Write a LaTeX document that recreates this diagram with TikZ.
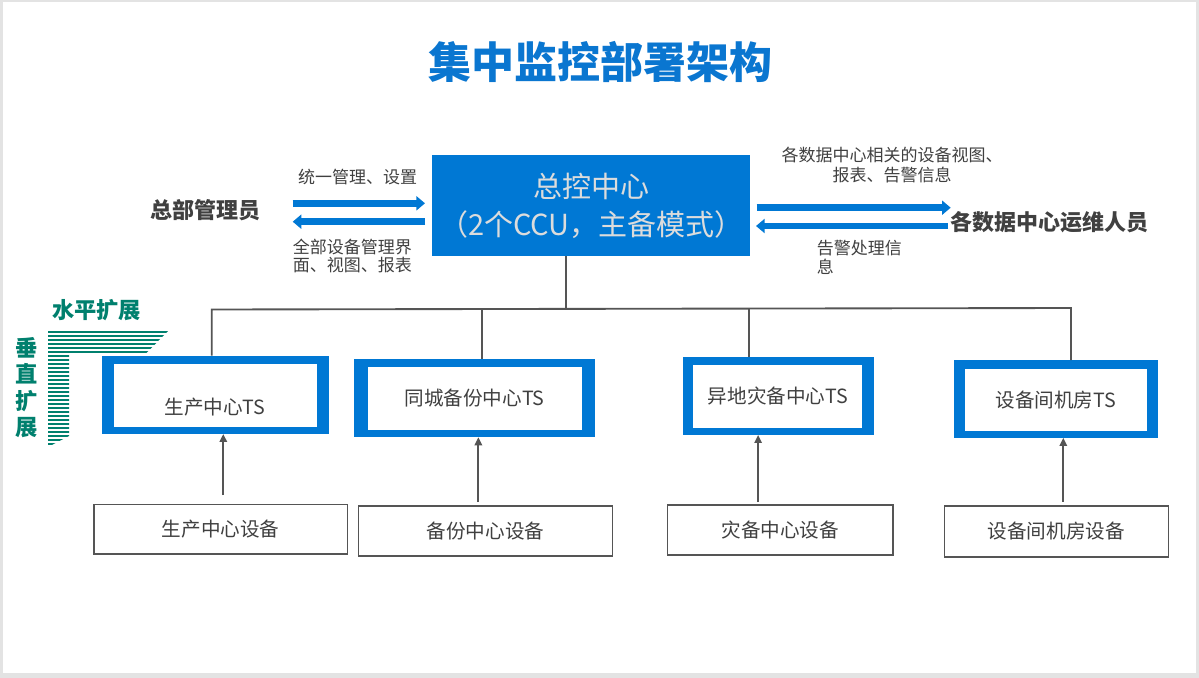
\documentclass[tikz,border=0pt]{standalone}
\usepackage{fontspec}
\setmainfont{Noto Sans CJK SC}
\usetikzlibrary{arrows.meta}
\definecolor{mblue}{HTML}{0078D4}
\definecolor{tblue}{HTML}{0A76D0}
\definecolor{txt}{HTML}{404040}
\definecolor{lnk}{HTML}{555555}
\definecolor{sgreen}{HTML}{00806E}
\definecolor{bggray}{HTML}{E3E3E3}
\definecolor{boxtxt}{HTML}{DCDCDC}
\begin{document}
\begin{tikzpicture}[x=0.75pt,y=-0.75pt,
  lbl/.style={text=txt, font=\fontsize{12.75}{13.7}\selectfont, inner sep=0},
  big/.style={text=txt, font=\fontsize{16.5}{18}\selectfont\bfseries, inner sep=0},
  tsout/.style={fill=mblue, inner sep=0},
  tsin/.style={fill=white, inner sep=0},
  tstext/.style={text=txt, font=\fontsize{14.7}{16}\selectfont, inner sep=0},
  devbox/.style={draw=lnk, line width=1.2pt, fill=white, inner sep=0, text=txt, font=\fontsize{14.7}{16}\selectfont},
  conn/.style={draw=lnk, line width=1.4pt},
  uparr/.style={draw=lnk, line width=1.4pt, -{Triangle[length=6pt,width=5.5pt]}},
  fatarr/.style={draw=mblue, line width=5pt, -{Triangle[length=6.5pt,width=10.5pt]}},
  green/.style={text=sgreen, font=\fontsize{16.7}{19.7}\selectfont\bfseries, inner sep=0}
]
\useasboundingbox (0,0) rectangle (1199,678);
\fill[bggray] (0,0) rectangle (1199,678);
\fill[white] (3,2) rectangle (1196,673);

% title
\node[text=tblue, font=\fontsize{32.25}{36}\selectfont\bfseries, inner sep=0] (title) at (600,61.5) {集中监控部署架构};

% main box
\node[fill=mblue, inner sep=0, minimum width=238.5pt, minimum height=75.5pt] (main) at (591,205.35) {};
\node[text=boxtxt, font=\fontsize{21.75}{28.7}\selectfont, align=center, inner sep=0] (maint) at (591.5,206) {总控中心\\（2个CCU，主备模式）};

% left side
\node[big] (hq) at (205.5,210) {总部管理员};
\node[lbl] (l1) at (357.5,176.7) {统一管理、设置};
\node[lbl, anchor=west, align=left] (l2) at (292.7,255.9) {全部设备管理界\\面、视图、报表};
\coordinate (la1) at (292.7,203.3);
\coordinate (la2) at (425,203.3);
\coordinate (lb1) at (425,221.7);
\coordinate (lb2) at (292.7,221.7);
\draw[fatarr] (la1) -- (la2);
\draw[fatarr] (lb1) -- (lb2);

% right side
\node[big] (ops) at (1049,221.7) {各数据中心运维人员};
\node[lbl, align=center, font=\fontsize{12.75}{15}\selectfont] (r1) at (892,165) {各数据中心相关的设备视图、\\报表、告警信息};
\node[lbl, anchor=west, align=left] (r2) at (816.7,257.5) {告警处理信\\息};
\coordinate (ra1) at (756.7,207.7);
\coordinate (ra2) at (950.7,207.7);
\coordinate (rb1) at (948,226);
\coordinate (rb2) at (756,226);
\draw[fatarr] (ra1) -- (ra2);
\draw[fatarr] (rb1) -- (rb2);

% expansion graphic
\node[green] (hx) at (96.7,310) {水平扩展};
\node[green, align=center, font=\fontsize{16.7}{19.7}\selectfont\bfseries] (vx) at (26.7,387.5) {垂\\直\\扩\\展};
\begin{scope}
\clip (48,330) -- (169,330) -- (146,353.5) -- (69,353.5) -- (69,436) -- (48,447) -- cycle;
\foreach \y in {330.7,334.7,...,446} { \fill[sgreen] (40,\y) rectangle (175,\y+2.2); }
\end{scope}

% TS boxes
\node[tsout, minimum width=170.25pt, minimum height=58.3pt] (ts1) at (215.5,394.85) {};
\node[tsin, minimum width=152pt, minimum height=47pt] (ts1i) at (215.35,395.65) {};
\node[tstext] (ts1t) at (215,406.7) {生产中心TS};

\node[tsout, minimum width=180.75pt, minimum height=58.5pt] (ts2) at (474.5,398) {};
\node[tsin, minimum width=160.5pt, minimum height=46.9pt] (ts2i) at (475,398.75) {};
\node[tstext] (ts2t) at (474.5,398.2) {同城备份中心TS};

\node[tsout, minimum width=142.9pt, minimum height=58.3pt] (ts3) at (778.25,395.85) {};
\node[tsin, minimum width=127.1pt, minimum height=47.25pt] (ts3i) at (777.75,396.5) {};
\node[tstext] (ts3t) at (778,396.5) {异地灾备中心TS};

\node[tsout, minimum width=153pt, minimum height=58pt] (ts4) at (1056,399) {};
\node[tsin, minimum width=136.7pt, minimum height=46.5pt] (ts4i) at (1056.15,400) {};
\node[tstext] (ts4t) at (1055.8,400) {设备间机房TS};

% device boxes
\node[devbox, minimum width=190pt, minimum height=37pt] (d1) at (220.65,529.35) {生产中心设备};
\node[devbox, minimum width=190.35pt, minimum height=37.5pt] (d2) at (485.5,531) {备份中心设备};
\node[devbox, minimum width=168.9pt, minimum height=37.5pt] (d3) at (780.2,530) {灾备中心设备};
\node[devbox, minimum width=168pt, minimum height=38.25pt] (d4) at (1056.3,531.2) {设备间机房设备};

% bus
\coordinate (bm) at (566,309);
\coordinate (b1) at (211.7,309.5);
\coordinate (b2) at (482,309);
\coordinate (b3) at (749,308.5);
\coordinate (b4) at (1071,308);
\draw[conn] (main.south -| bm) -- (bm);
\draw[conn] (ts1.north -| b1) -- (b1) -- (b4) -- (ts4.north -| b4);
\draw[conn] (b2) -- (ts2.north -| b2);
\draw[conn] (b3) -- (ts3.north -| b3);

% up arrows
\coordinate (c1) at (223.3,495);
\coordinate (c2) at (478.4,502);
\coordinate (c3) at (758.1,502);
\coordinate (c4) at (1063.3,501.7);
\draw[uparr] (c1) -- (c1 |- ts1.south);
\draw[uparr] (c2) -- (c2 |- ts2.south);
\draw[uparr] (c3) -- (c3 |- ts3.south);
\draw[uparr] (c4) -- (c4 |- ts4.south);
\end{tikzpicture}
\end{document}
